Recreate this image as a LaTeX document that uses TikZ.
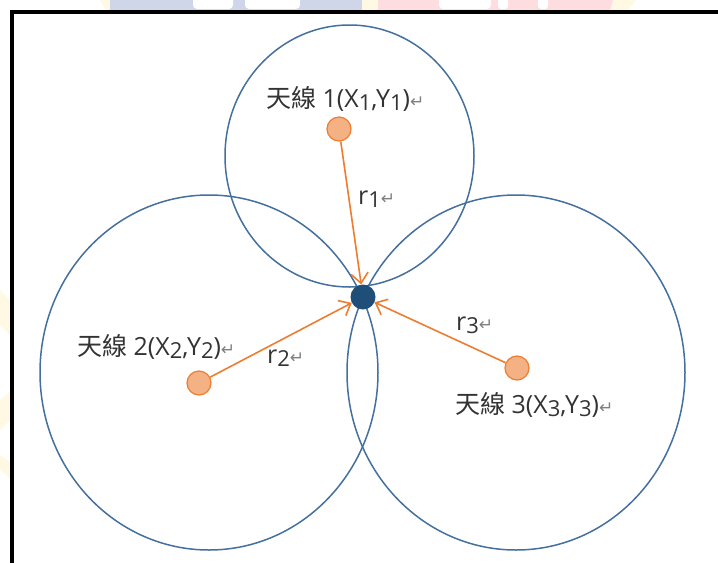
\documentclass[tikz,border=0pt]{standalone}
\usepackage{fontspec}
\setmainfont{Open Sans}
\newfontfamily\cjk{Noto Sans CJK TC}
\newfontfamily\symf{DejaVu Sans}
\usetikzlibrary{arrows.meta,shapes.geometric}
\definecolor{ringblue}{HTML}{44709F}
\definecolor{navy}{HTML}{1F4E79}
\definecolor{antfill}{HTML}{F4B183}
\definecolor{antline}{HTML}{ED7D31}
\definecolor{txt}{HTML}{333333}
\definecolor{retgray}{HTML}{808080}
\definecolor{wmblue}{HTML}{CFD6EA}
\definecolor{wmpink}{HTML}{FDDDE0}
\definecolor{wmyellow}{HTML}{FFF9E3}
\newcommand{\lowsub}[1]{\raisebox{-0.25ex}{\fontsize{22}{22}\selectfont #1}}
\newcommand{\retmark}{{\symf\fontsize{17}{17}\selectfont\color{retgray}↵}}
\tikzset{
  ring/.style={draw=ringblue, line width=1.5pt},
  ant/.style={circle, draw=antline, fill=antfill, line width=1.2pt, minimum size=24pt, inner sep=0pt},
  centerdot/.style={circle, fill=navy, minimum size=25pt, inner sep=0pt},
  arr/.style={draw=antline, line width=1.6pt, -{Straight Barb[length=10pt,width=17pt,line width=1.6pt]}},
  lbl/.style={anchor=base west, inner sep=0pt, text=txt, font=\fontsize{25}{28}\selectfont}
}
\begin{document}
\begin{tikzpicture}[x=1pt,y=-1pt]
\useasboundingbox (0,0) rectangle (718,563);
\fill[white] (0,0) rectangle (718,563);
% faint watermark outside the frame
\fill[wmyellow] (100,0) -- (112,0) -- (112,10) -- (106,10) -- cycle;
\fill[wmblue] (110,0) rectangle (362,10);
\fill[wmyellow] (362,0) rectangle (378,10);
\fill[wmpink] (378,0) rectangle (613,10);
\fill[wmyellow] (613,0) -- (636,0) -- (628,10) -- (610,10) -- cycle;
\fill[white, rounded corners=4pt] (193,-4) rectangle (233,9);
\fill[white, rounded corners=4pt] (245,-4) rectangle (300,9);
\fill[white, rounded corners=4pt] (439,-4) rectangle (491,9);
\fill[white, rounded corners=3pt] (498,-4) rectangle (508,9);
\fill[white, rounded corners=3pt] (538,-4) rectangle (548,9);
\fill[wmyellow] (0,290) -- (10,300) -- (10,335) -- (0,325) -- cycle;
\fill[wmyellow] (0,400) -- (10,392) -- (10,420) -- (0,430) -- cycle;
\fill[wmyellow] (0,455) -- (10,462) -- (10,478) -- (0,470) -- cycle;
% frame
\draw[line width=3.5pt] (11.75,563) -- (11.75,11.75) -- (718,11.75);
% rings
\draw[ring] (349.5,156) ellipse [x radius=124.5pt, y radius=131pt];
\draw[ring] (209,372.5) ellipse [x radius=169pt, y radius=177.5pt];
\draw[ring] (516,372.5) ellipse [x radius=169pt, y radius=177.5pt];
% antennas and point
\node[ant] (a1) at (339,129) {};
\node[ant] (a2) at (199,383) {};
\node[ant] (a3) at (517,368) {};
\node[centerdot] (p) at (363,297) {};
% arrows
\draw[arr] (a1) -- (p);
\draw[arr] (a2) -- (p);
\draw[arr] (a3) -- (p);
% labels
\node[lbl] (l1) at (266,107) {{\cjk 天線} 1(X\lowsub{1},Y\lowsub{1})\retmark};
\node[lbl] (l2) at (77,355) {{\cjk 天線} 2(X\lowsub{2},Y\lowsub{2})\retmark};
\node[lbl] (l3) at (455,413) {{\cjk 天線} 3(X\lowsub{3},Y\lowsub{3})\retmark};
\node[lbl] (r1) at (358,204) {r\lowsub{1}\retmark};
\node[lbl] (r2) at (267,363) {r\lowsub{2}\retmark};
\node[lbl] (r3) at (456,330) {r\lowsub{3}\retmark};
\end{tikzpicture}
\end{document}
